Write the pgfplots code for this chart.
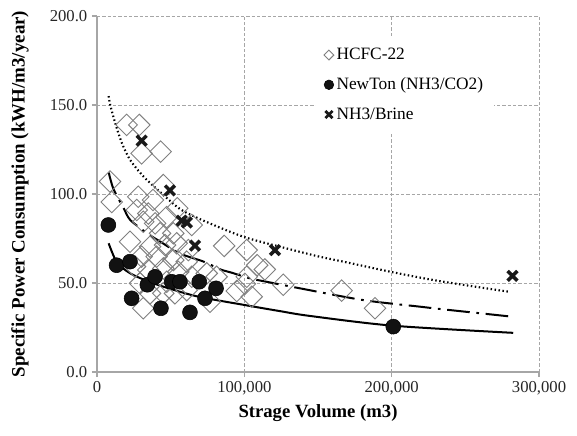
\documentclass[border=0pt]{standalone}
\usepackage{fontspec}
\setmainfont{Liberation Serif}
\usepackage{pgfplots}
\pgfplotsset{compat=1.18}
\definecolor{gridgray}{HTML}{A6A6A6}
\definecolor{diagray}{HTML}{808080}
\definecolor{txt}{HTML}{262626}
\pgfplotsset{
  legdia/.style={legend image code/.code={\draw[##1, mark size=2.6pt] plot coordinates {(0.1cm,0cm)};}},
  legcirc/.style={legend image code/.code={\draw[##1, mark size=3.6pt] plot coordinates {(0.1cm,0cm)};}},
  legx/.style={legend image code/.code={\draw[##1, mark size=3.8pt, mark options={line width=2.1pt}] plot coordinates {(0.1cm,0cm)};}},
}
\begin{document}
\begin{tikzpicture}
\begin{axis}[
  scale only axis, width=331.5pt, height=267pt,
  xmin=0, xmax=300000, ymin=0, ymax=200,
  xtick={0,100000,200000,300000}, ytick={0,50,100,150,200},
  scaled x ticks=false,
  /pgf/number format/assume math mode=true,
  xticklabel style={/pgf/number format/fixed, /pgf/number format/1000 sep={,}},
  yticklabel style={/pgf/number format/fixed, /pgf/number format/precision=1, /pgf/number format/fixed zerofill},
  ticklabel style={font=\fontsize{12.5}{14}\selectfont, text=txt},
  axis lines*=left,
  axis line style={gridgray, line width=0.8pt},
  tick style={gridgray, line width=0.8pt},
  tick align=outside, major tick length=3.75pt,
  grid=major,
  major grid style={gridgray, line width=0.6pt, dash pattern=on 2.5pt off 1.5pt},
  every axis y label/.style={at={(rel axis cs:0,0.5)}, xshift=-57.75pt, rotate=90, anchor=center},
  every axis x label/.style={at={(rel axis cs:0.5,0)}, yshift=-30.75pt, anchor=center},
  ylabel={\fontsize{14.2}{15}\selectfont\bfseries Specific Power Consumption (kWH/m3/year)},
  xlabel={\fontsize{14}{15}\selectfont\bfseries Strage Volume (m3)},
  legend style={at={(rel axis cs:0.495,0.94)}, anchor=north west, draw=none, fill=white,
    font=\fontsize{13}{15}\selectfont, row sep=8pt, inner xsep=6pt, inner ysep=6pt,
    cells={anchor=west}},
  clip=false,
]
\addplot[only marks, mark=square, mark size=5.7pt, draw=diagray, line width=0.7pt,
  mark options={rotate=45, fill=none}, legdia]
coordinates {
(20100,138.8) (28700,138.8) (30300,122.8) (43200,123.8) (8800,107) (10000,95.5)
(45000,105) (28000,98.5) (38000,96.6) (54500,92) (27000,91) (34800,89)
(31400,84.4) (39400,83.5) (47300,87) (64300,82.6) (42800,77.9) (51800,77.9)
(22400,73.2) (36000,70.4) (46200,71.3) (54100,72.3) (62000,68.5) (30300,64.8)
(40500,64.8) (51800,62.9) (60900,62) (25800,59.2) (34800,57.3) (45000,58.2)
(55200,56.3) (64300,53.5) (74500,55.4) (81200,53.5) (86300,70.8) (101600,68.5)
(108700,60) (113900,57.6) (101600,53.5) (100400,49.5) (94800,45.5) (105000,42.3)
(126400,49) (31400,35.8) (45000,44.2) (52900,44.2) (36000,44.2) (60900,46)
(76700,39.5) (47300,50.7) (29200,49.8) (166000,45.7) (188700,35.8)
};
\addlegendentry{HCFC-22}
\addplot[only marks, mark=*, mark size=5.6pt, draw=black, fill=black!93, legcirc]
coordinates {
(7700,82.6) (13300,60) (22400,62) (34200,49) (39400,53.5) (23500,41.4) (43400,35.8)
(50700,50.7) (56300,50.7) (69400,50.7) (73300,41.4) (80800,47) (63100,33.5) (201100,25.5)
};
\addlegendentry{NewTon (NH3/CO2)}
\addplot[only marks, mark=x, mark size=5.2pt, draw=black!90, mark options={line width=2.6pt}, legx]
coordinates {
(30300,130) (49500,102) (57500,85) (61000,84) (66500,71) (120800,68.5) (282000,54)
};
\addlegendentry{NH3/Brine}
% trend lines
\addplot[black, line width=1.5pt, smooth, forget plot] coordinates {
(7900,72.3) (13600,61.5) (22600,55.4) (33900,51.2) (45200,47.9) (67900,42.5)
(100400,37.6) (124200,34.2) (144500,31.5) (201100,26) (282500,22)
};
\addplot[black, line width=1.5pt, smooth, forget plot, dash pattern=on 17pt off 5pt on 2pt off 5pt] coordinates {
(8000,112) (11100,103) (18100,92) (22600,85.4) (33900,78) (43000,73.2) (56500,66.5)
(72400,62) (83500,57.7) (91400,55.8) (103800,52.6) (116300,50.5) (137800,47)
(180700,40.4) (219200,36.7) (235000,35.2) (271300,32) (282500,31)
};
\addplot[black, line width=1.6pt, smooth, forget plot, dash pattern=on 1.1pt off 1.9pt] coordinates {
(7900,155) (9000,150) (12400,139.7) (17000,128.4) (22600,119) (31700,109.7)
(43000,101) (56500,91.5) (72400,85) (99300,76) (126000,70) (150000,65)
(170000,61.5) (201000,56) (233000,51) (280300,45)
};
\coordinate (o) at (rel axis cs:0,0);
\end{axis}
\pgfresetboundingbox
\useasboundingbox (o) ++(-72.75pt,-47.25pt) rectangle ++(432.75pt,326.25pt);
\end{tikzpicture}
\end{document}
